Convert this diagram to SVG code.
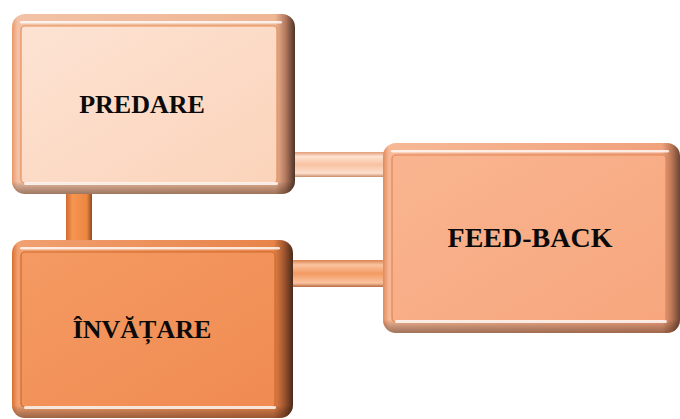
<svg xmlns="http://www.w3.org/2000/svg" width="680" height="419" viewBox="0 0 680 419">
  <defs>
    <style>
      .label { font-family: "Liberation Serif", "Times New Roman", serif; font-weight: bold; font-size: 26px; fill: #0a0a0a; text-anchor: middle; }
      .big { font-size: 28px; }
      .hl { fill: #ffffff; opacity: 0.8; }
      .shade { fill: url(#shadeV); }
    </style>
    <!-- frame: flat tone with a rounded, dark brown right edge -->
    <linearGradient id="frameLight" x1="0" y1="0" x2="1" y2="0">
      <stop offset="0" stop-color="#e9986a"/>
      <stop offset="0.02" stop-color="#f3c2a6"/>
      <stop offset="0.93" stop-color="#efb694"/>
      <stop offset="0.965" stop-color="#b77c60"/>
      <stop offset="1" stop-color="#4e3428"/>
    </linearGradient>
    <linearGradient id="frameDark" x1="0" y1="0" x2="1" y2="0">
      <stop offset="0" stop-color="#d8702f"/>
      <stop offset="0.02" stop-color="#f1a070"/>
      <stop offset="0.93" stop-color="#e8844a"/>
      <stop offset="0.965" stop-color="#a85a30"/>
      <stop offset="1" stop-color="#4a2a1a"/>
    </linearGradient>
    <linearGradient id="frameMid" x1="0" y1="0" x2="1" y2="0">
      <stop offset="0" stop-color="#e08a5a"/>
      <stop offset="0.02" stop-color="#f7b896"/>
      <stop offset="0.94" stop-color="#f0a27c"/>
      <stop offset="0.97" stop-color="#c07a58"/>
      <stop offset="1" stop-color="#6a4434"/>
    </linearGradient>
    <!-- darkening toward the bottom lip of each frame -->
    <linearGradient id="shadeV" x1="0" y1="0" x2="0" y2="1">
      <stop offset="0" stop-color="#000" stop-opacity="0"/>
      <stop offset="0.93" stop-color="#000" stop-opacity="0"/>
      <stop offset="1" stop-color="#3a2014" stop-opacity="0.45"/>
    </linearGradient>
    <linearGradient id="faceLight" x1="0" y1="0" x2="1" y2="1">
      <stop offset="0" stop-color="#fde3d3"/>
      <stop offset="1" stop-color="#fbd3ba"/>
    </linearGradient>
    <linearGradient id="faceDark" x1="0" y1="0" x2="1" y2="1">
      <stop offset="0" stop-color="#f49a62"/>
      <stop offset="1" stop-color="#f08b52"/>
    </linearGradient>
    <linearGradient id="faceMid" x1="0" y1="0" x2="1" y2="1">
      <stop offset="0" stop-color="#f9b590"/>
      <stop offset="1" stop-color="#f7a67d"/>
    </linearGradient>
    <linearGradient id="barV" x1="0" y1="0" x2="1" y2="0">
      <stop offset="0" stop-color="#d06a30"/>
      <stop offset="0.25" stop-color="#f59650"/>
      <stop offset="0.8" stop-color="#ec8540"/>
      <stop offset="1" stop-color="#8a4a24"/>
    </linearGradient>
    <linearGradient id="barTop" x1="0" y1="0" x2="0" y2="1">
      <stop offset="0" stop-color="#e39c78"/>
      <stop offset="0.18" stop-color="#fde2d0"/>
      <stop offset="0.5" stop-color="#f8c2a2"/>
      <stop offset="0.85" stop-color="#fde0cc"/>
      <stop offset="1" stop-color="#c98a6a"/>
    </linearGradient>
    <linearGradient id="barBottom" x1="0" y1="0" x2="0" y2="1">
      <stop offset="0" stop-color="#d9824f"/>
      <stop offset="0.18" stop-color="#fbc3a0"/>
      <stop offset="0.5" stop-color="#f39a62"/>
      <stop offset="0.85" stop-color="#fbc3a0"/>
      <stop offset="1" stop-color="#b86a40"/>
    </linearGradient>
  </defs>

  <!-- connectors -->
  <g id="connectors">
    <rect x="66" y="190" width="26" height="54" fill="url(#barV)"/>
    <rect x="290" y="152" width="96" height="25" fill="url(#barTop)"/>
    <rect x="288" y="260" width="98" height="27" fill="url(#barBottom)"/>
  </g>

  <!-- PREDARE -->
  <g id="predare">
    <rect x="12" y="14" width="283" height="180" rx="13" fill="url(#frameLight)"/>
    <rect x="12" y="14" width="283" height="180" rx="13" class="shade"/>
    <rect x="21" y="26" width="256" height="157" rx="4" fill="url(#faceLight)" stroke="#e58f58" stroke-width="1.2"/>
    <rect x="20" y="21" width="262" height="2.5" rx="1.2" class="hl"/>
    <rect x="24" y="182" width="254" height="3" rx="1.5" class="hl"/>
    <text class="label" x="142" y="113">PREDARE</text>
  </g>

  <!-- ÎNVĂȚARE -->
  <g id="invatare">
    <rect x="12" y="240" width="281" height="178" rx="13" fill="url(#frameDark)"/>
    <rect x="12" y="240" width="281" height="178" rx="13" class="shade"/>
    <rect x="21" y="252" width="254" height="155" rx="4" fill="url(#faceDark)" stroke="#cf6a2c" stroke-width="1.2"/>
    <rect x="20" y="247" width="260" height="2.5" rx="1.2" class="hl"/>
    <rect x="24" y="406" width="252" height="3" rx="1.5" class="hl"/>
    <text class="label" x="142" y="338">ÎNVĂȚARE</text>
  </g>

  <!-- FEED-BACK -->
  <g id="feedback">
    <rect x="383" y="143" width="297" height="190" rx="13" fill="url(#frameMid)"/>
    <rect x="383" y="143" width="297" height="190" rx="13" class="shade"/>
    <rect x="392" y="155" width="274" height="167" rx="4" fill="url(#faceMid)" stroke="#e08658" stroke-width="1.2"/>
    <rect x="391" y="150" width="278" height="2.5" rx="1.2" class="hl"/>
    <rect x="395" y="320" width="272" height="3" rx="1.5" class="hl"/>
    <text class="label big" x="530" y="247">FEED-BACK</text>
  </g>
</svg>
